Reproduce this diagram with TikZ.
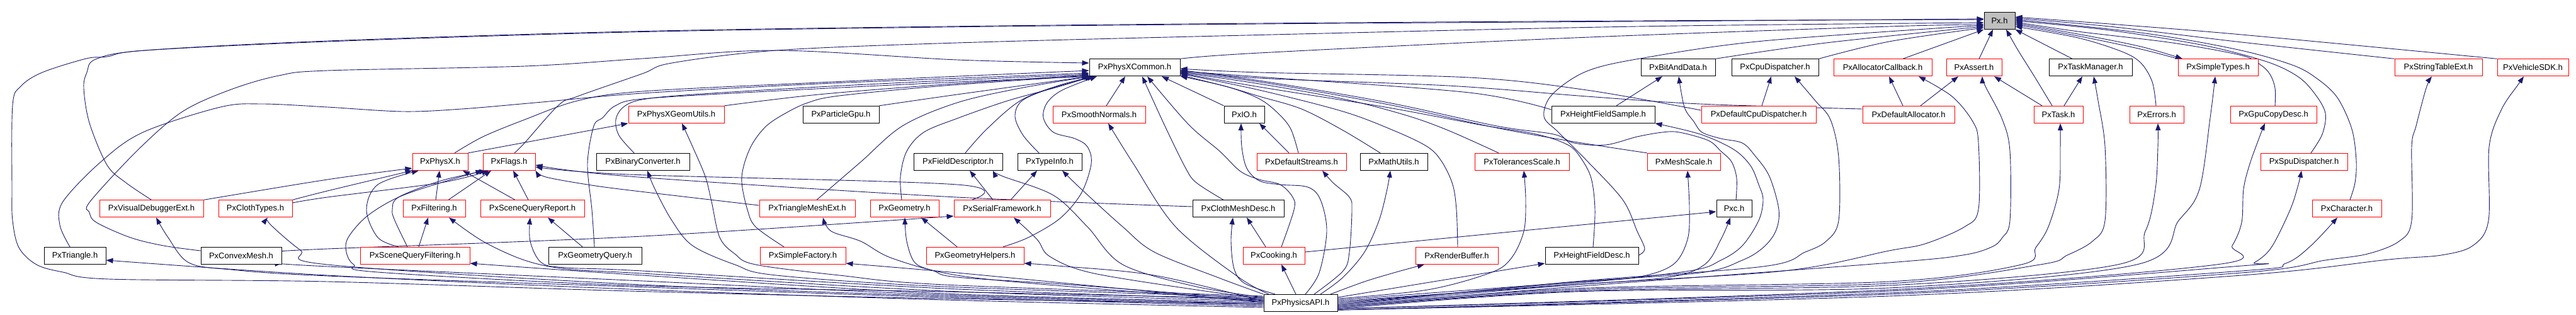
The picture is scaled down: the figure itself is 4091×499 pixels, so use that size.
\documentclass[tikz,border=0pt]{standalone}
\usepackage{fontspec}
\newfontfamily\lsans{Liberation Sans}
\usetikzlibrary{arrows.meta}
\definecolor{edgec}{HTML}{191970}
\definecolor{redc}{HTML}{FF0000}
\definecolor{grayc}{HTML}{BFBFBF}
\pgfdeclarelayer{bg}
\pgfsetlayers{bg,main}
\newcommand\myE[1]{\draw[e] plot[smooth,tension=0.55] coordinates {#1};}
\newcommand\myL[2]{\draw[e] #1 -- #2;}
\begin{document}
\begin{tikzpicture}[x=1pt,y=-1pt,
  box/.style={draw=black, line width=1pt, inner sep=0pt, minimum height=27pt,
    font=\lsans\fontsize{13}{15}\selectfont, fill=white},
  rbox/.style={box, draw=redc},
  gbox/.style={box, fill=grayc},
  e/.style={draw=edgec, line width=0.9pt, -{Triangle[length=11pt,width=8pt]}},
]
\useasboundingbox (0,0) rectangle (4091,499);
% row 1
\node[gbox, minimum width=49pt] (px) at (3175.5,32.8) {Px.h};
% row 2
\node[box, minimum width=144pt] (pxc) at (1802,107.3) {PxPhysXCommon.h};
\node[box, minimum width=118pt] (bad) at (2665,107.3) {PxBitAndData.h};
\node[box, minimum width=138pt] (cpu) at (2819,107.3) {PxCpuDispatcher.h};
\node[rbox, minimum width=156pt] (alc) at (2990,107.3) {PxAllocatorCallback.h};
\node[rbox, minimum width=88pt] (ast) at (3135,107.3) {PxAssert.h};
\node[box, minimum width=132pt] (tm) at (3320,107.3) {PxTaskManager.h};
\node[rbox, minimum width=127pt] (st) at (3522.5,107.3) {PxSimpleTypes.h};
\node[rbox, minimum width=139pt] (ste) at (3872.5,107.3) {PxStringTableExt.h};
\node[rbox, minimum width=113pt] (veh) at (4022.5,107.3) {PxVehicleSDK.h};
% row 3
\node[rbox, minimum width=152pt] (pgu) at (1074,181.8) {PxPhysXGeomUtils.h};
\node[box, minimum width=121pt] (pgpu) at (1335.5,181.8) {PxParticleGpu.h};
\node[rbox, minimum width=147pt] (sn) at (1745.5,181.8) {PxSmoothNormals.h};
\node[box, minimum width=64pt] (io) at (1976,181.8) {PxIO.h};
\node[box, minimum width=164pt] (hfs) at (2546,181.8) {PxHeightFieldSample.h};
\node[rbox, minimum width=182pt] (dcd) at (2793,181.8) {PxDefaultCpuDispatcher.h};
\node[rbox, minimum width=146pt] (da) at (3031,181.8) {PxDefaultAllocator.h};
\node[rbox, minimum width=78pt] (task) at (3269,181.8) {PxTask.h};
\node[rbox, minimum width=86pt] (err) at (3425,181.8) {PxErrors.h};
\node[rbox, minimum width=137pt] (gcd) at (3610.5,181.8) {PxGpuCopyDesc.h};
% row 4
\node[rbox, minimum width=88pt] (phx) at (699,256.8) {PxPhysX.h};
\node[rbox, minimum width=83pt] (flg) at (808.5,256.8) {PxFlags.h};
\node[box, minimum width=148pt] (bc) at (1021,256.8) {PxBinaryConverter.h};
\node[box, minimum width=141pt] (fd) at (1521.5,256.8) {PxFieldDescriptor.h};
\node[box, minimum width=102pt] (ti) at (1667,256.8) {PxTypeInfo.h};
\node[rbox, minimum width=142pt] (ds) at (2067,256.8) {PxDefaultStreams.h};
\node[box, minimum width=107pt] (mu) at (2213.5,256.8) {PxMathUtils.h};
\node[rbox, minimum width=150pt] (tol) at (2417,256.8) {PxTolerancesScale.h};
\node[rbox, minimum width=116pt] (ms) at (2674,256.8) {PxMeshScale.h};
\node[rbox, minimum width=138pt] (spu) at (3659,256.8) {PxSpuDispatcher.h};
% row 5
\node[rbox, minimum width=165pt] (vde) at (240.5,331.3) {PxVisualDebuggerExt.h};
\node[rbox, minimum width=117pt] (ct) at (405.5,331.3) {PxClothTypes.h};
\node[rbox, minimum width=99pt] (fil) at (689.5,331.3) {PxFiltering.h};
\node[rbox, minimum width=165pt] (sqr) at (845.5,331.3) {PxSceneQueryReport.h};
\node[rbox, minimum width=152pt] (tme) at (1282,331.3) {PxTriangleMeshExt.h};
\node[rbox, minimum width=109pt] (geo) at (1436.5,331.3) {PxGeometry.h};
\node[rbox, minimum width=153pt] (sf) at (1591.5,331.3) {PxSerialFramework.h};
\node[box, minimum width=145pt] (cmd) at (1966.5,331.3) {PxClothMeshDesc.h};
\node[box, minimum width=56pt] (pxcc) at (2754,331.3) {Pxc.h};
\node[rbox, minimum width=110pt] (chr) at (3727,331.3) {PxCharacter.h};
% row 6
\node[box, minimum width=98pt] (tri) at (119,405.8) {PxTriangle.h};
\node[box, minimum width=128pt] (cvx) at (383,405.8) {PxConvexMesh.h};
\node[rbox, minimum width=174pt] (sqf) at (659,405.8) {PxSceneQueryFiltering.h};
\node[box, minimum width=148pt] (gq) at (945,405.8) {PxGeometryQuery.h};
\node[rbox, minimum width=136pt] (sfa) at (1275,405.8) {PxSimpleFactory.h};
\node[rbox, minimum width=155pt] (gh) at (1548.5,405.8) {PxGeometryHelpers.h};
\node[rbox, minimum width=98pt] (ck) at (2023,405.8) {PxCooking.h};
\node[rbox, minimum width=131pt] (rb) at (2313.5,405.8) {PxRenderBuffer.h};
\node[box, minimum width=148pt] (hfd) at (2528,405.8) {PxHeightFieldDesc.h};
% row 7
\node[box, minimum width=117pt] (pa) at (2065.5,481) {PxPhysicsAPI.h};

\begin{pgfonlayer}{bg}
% ---- into Px.h
\myE{(pxc.north east) (2000,84) (2500,60) (3000,42) (px.west |- 0,39)}
\myE{(vde.north) (200,290) (170,262) (142,195) (133,140) (138,115) (152,94) (230,80) (520,65) (1000,50) (1500,42) (2000,37) (2600,33) (px.west |- 0,31)}
\myE{(pa.west |- 0,482) (1500,474) (1000,462) (520,447) (173,443) (100,432) (58,420) (30,393) (20,350) (19,300) (20,167) (33,137) (67,115) (137,93) (170,90) (230,80) (520,66) (1000,51) (1500,43) (2000,38) (2600,34) (px.west |- 0,30)}
\myE{(flg.north -| 817,0) (833,227) (887,167) (917,153) (1020,117) (1067,100) (1233,80) (1520,68) (2020,55) (2600,42) (px.west |- 0,36)}
\myE{(bad.north east) (2900,68) (px.west |- 0,42)}
\myE{(cpu.north east) (3000,66) (px.west |- 0,44)}
\myL{(alc.north -| 3022,0)}{(px.south west)}
\myL{(ast.north -| 3143,0)}{(px.south -| 3165,0)}
\myE{(task.north -| 3259,0) (3230,120) (3205,80) (px.south -| 3186,0)}
\myL{(tm.north -| 3291,0)}{(px.south east)}
\myE{(err.north -| 3424,0) (3418,130) (3400,100) (3370,82) (3300,60) (px.east |- 0,42)}
\myE{(st.north west) (3400,78) (3300,57) (px.east |- 0,39)}
\myE{(px.east |- 0,37) (3300,54) (3400,74) (st.north -| 3466,0)}
\myE{(gcd.north -| 3613,0) (3613,140) (3605,118) (3590,103) (3560,88) (3450,68) (3300,50) (px.east |- 0,35)}
\myE{(spu.north -| 3670,0) (3688,213) (3693,180) (3677,150) (3650,122) (3600,98) (3500,72) (3350,48) (px.east |- 0,33)}
\myE{(chr.north -| 3732,0) (3740,290) (3742,255) (3735,205) (3712,155) (3680,125) (3640,103) (3550,78) (3400,52) (px.east |- 0,31)}
\myE{(ste.north west) (3560,67) (3350,42) (px.east |- 0,29)}
\myE{(veh.north west) (3560,55) (3350,38) (px.east |- 0,27)}
\myE{(hfd.east |- 0,405) (2612,395) (2600,367) (2577,317) (2520,255) (2475,210) (2452,185) (2465,150) (2520,113) (2610,92) (2800,65) (px.west |- 0,40)}
% ---- into PxPhysXCommon.h
\myE{(tri.north -| 111,0) (95,357) (100,320) (160,257) (227,210) (350,170) (417,165) (520,170) (640,177) (733,173) (850,163) (1020,148) (1300,133) (1500,125) (pxc.west |- 0,116)}
\myE{(cvx.west |- 0,398) (260,390) (207,377) (153,353) (142,337) (143,320) (220,237) (290,177) (367,142) (443,120) (520,112) (833,105) (1020,93) (1233,80) (1520,95) (pxc.west |- 0,100)}
\myE{(phx.north -| 722,0) (767,217) (833,190) (917,160) (1020,145) (1300,131) (1500,122) (pxc.west |- 0,112)}
\myE{(bc.north -| 1007,0) (983,215) (978,190) (990,170) (1020,158) (1100,150) (1300,138) (1500,128) (pxc.west |- 0,118)}
\myE{(gq.north -| 944,0) (940,333) (933,260) (943,200) (957,187) (977,168) (1020,157) (1200,146) (1500,131) (pxc.south west)}
\myE{(pgu.north east) (1300,150) (1500,134) (pxc.west |- 0,119)}
\myE{(pgpu.north east) (1520,150) (pxc.south west)}
\myE{(tme.north -| 1297,0) (1367,257) (1433,200) (1520,163) (1620,140) (pxc.south -| 1732,0)}
\myE{(geo.north -| 1432,0) (1430,280) (1440,240) (1467,210) (1520,188) (1600,160) (1680,138) (pxc.south -| 1734,0)}
\myE{(sfa.north -| 1245,0) (1200,360) (1187,333) (1178,290) (1182,260) (1195,228) (1217,200) (1247,180) (1283,163) (1333,152) (1500,136) (pxc.west |- 0,120)}
\myE{(fd.north -| 1533,0) (1567,205) (1620,160) (1680,136) (pxc.south -| 1736,0)}
\myE{(ti.north -| 1650,0) (1625,215) (1612,185) (1623,160) (1667,141) (pxc.south -| 1738,0)}
\myE{(gh.north -| 1593,0) (1633,377) (1683,347) (1717,307) (1733,260) (1727,233) (1707,220) (1673,210) (1657,187) (1663,163) (1687,143) (pxc.south -| 1742,0)}
\myL{(sn.north -| 1757,0)}{(pxc.south -| 1787,0)}
\myL{(io.north west)}{(pxc.south -| 1845,0)}
\myE{(cmd.north -| 1943,0) (1900,290) (1883,267) (1850,200) (pxc.south -| 1814,0)}
\myE{(ck.north -| 2035,0) (2055,333) (2053,313) (2033,293) (2000,285) (1970,272) (1937,240) (1887,197) (pxc.south -| 1822,0)}
\myE{(ds.north -| 2062,0) (2050,205) (2030,180) (2000,157) (1950,138) (pxc.east |- 0,121)}
\myE{(mu.north -| 2192,0) (2133,207) (2067,173) (2000,153) (1950,138) (pxc.east |- 0,119)}
\myE{(rb.north -| 2315,0) (2313,333) (2307,293) (2290,257) (2267,233) (2213,207) (2133,177) (2000,143) (pxc.east |- 0,117)}
\myE{(tol.north -| 2380,0) (2300,207) (2233,183) (2133,157) (2000,133) (pxc.east |- 0,115)}
\myE{(hfs.west |- 0,174) (2333,147) (2000,122) (pxc.east |- 0,113)}
\myE{(ms.north west) (2500,225) (2377,203) (2200,165) (2000,130) (pxc.east |- 0,114)}
\myE{(pxcc.north -| 2757,0) (2758,283) (2750,257) (2733,240) (2713,223) (2667,210) (2640,210) (2600,217) (2550,230) (2500,227) (2467,213) (2377,200) (2200,162) (2000,128) (pxc.east |- 0,112)}
\myE{(dcd.west |- 0,175) (2520,143) (2333,123) (2000,115) (pxc.east |- 0,109)}
\myE{(da.west |- 0,173) (2700,165) (2520,153) (2300,136) (2000,124) (pxc.east |- 0,111)}
\myE{(hfd.north -| 2530,0) (2533,333) (2527,283) (2510,250) (2490,230) (2440,213) (2350,198) (2200,170) (2000,138) (pxc.east |- 0,116)}
% ---- PxPhysicsAPI.h, left side
\myE{(pa.west |- 0,488) (1500,476) (1000,459) (520,437) (tri.east |- 0,413)}
\myE{(pa.west |- 0,486) (1500,472) (1000,455) (520,438) (367,428) (300,417) (267,377) (vde.south -| 248,0)}
\myE{(pa.west |- 0,484) (1500,470) (1000,451) (520,420) (477,397) (430,357) (ct.south -| 425,0)}
\myE{(pa.west |- 0,482) (1500,468) (1000,445) (520,423) (cvx.east |- 0,418)}
\myE{(pa.west |- 0,480) (1500,466) (1020,437) (sqf.east |- 0,418)}
\myE{(pa.west |- 0,478) (1500,462) (1020,434) (900,427) (833,413) (767,383) (fil.south -| 713,0)}
\myE{(pa.west |- 0,476) (1500,458) (1020,430) (900,425) (860,417) (842,383) (sqr.south -| 842,0)}
\myE{(pa.west |- 0,474) (1500,463) (1000,453) (600,432) (562,420) (550,400) (553,377) (583,343) (633,313) (700,290) (flg.south west)}
\myE{(pa.west |- 0,472) (1500,455) (1233,437) (1167,420) (1100,390) (1067,350) (1040,300) (bc.south -| 1028,0)}
\myE{(pa.west |- 0,470) (1500,452) (1333,437) (1200,420) (1167,403) (1143,377) (1130,320) (1120,280) (1100,233) (pgu.south -| 1083,0)}
\myE{(pa.west |- 0,480) (1800,460) (1520,433) (sfa.east |- 0,418)}
\myE{(pa.west |- 0,478) (1700,455) (1520,437) (1417,410) (1367,383) (1320,367) (tme.south -| 1307,0)}
\myE{(pa.west |- 0,476) (1700,452) (1520,440) (1483,430) (1453,417) (1440,383) (geo.south -| 1437,0)}
\myE{(pa.west |- 0,478) (1833,437) (1680,422) (gh.east |- 0,418)}
\myE{(pa.west |- 0,474) (1900,460) (1733,433) (1667,407) (1647,380) (sf.south -| 1610,0)}
\myE{(pa.west |- 0,472) (1900,455) (1783,420) (1727,360) (1673,310) (1593,280) (fd.south -| 1577,0)}
\myE{(pa.north west) (1933,440) (1833,400) (1783,360) (1717,300) (ti.south -| 1687,0)}
\myE{(pa.north -| 2015,0) (1967,440) (1867,360) (1800,260) (sn.south -| 1760,0)}
\myE{(pa.north -| 2025,0) (1977,450) (1960,427) (1955,383) (cmd.south -| 1958,0)}
\myL{(pa.north -| 2058,0)}{(ck.south -| 2035,0)}
\myE{(pa.north -| 2073,0) (2095,433) (2107,367) (2097,317) (2077,297) (2033,293) (2000,287) (1980,267) (1972,233) (io.south -| 1971,0)}
\myE{(pa.north -| 2087,0) (2133,430) (2143,400) (2147,333) (2143,313) (2117,290) (ds.south -| 2100,0)}
\myE{(pa.north -| 2097,0) (2133,440) (2167,400) (2190,350) (2203,300) (mu.south -| 2208,0)}
\myE{(pa.north -| 2113,0) (2167,447) (2217,432) (rb.south -| 2262,0)}
% ---- PxPhysicsAPI.h, right side
\myL{(pa.east |- 0,472)}{(hfd.west |- 0,418)}
\myE{(pa.east |- 0,474) (2267,460) (2367,433) (2400,410) (2420,367) (2423,317) (tol.south -| 2420,0)}
\myE{(pa.east |- 0,476) (2500,448) (2600,440) (2657,420) (2680,380) (2683,330) (ms.south -| 2680,0)}
\myE{(pa.east |- 0,478) (2500,452) (2650,440) (2707,420) (2733,380) (pxcc.south -| 2748,0)}
\myE{(pa.east |- 0,480) (2500,450) (2683,430) (2733,413) (2767,390) (2793,350) (2800,317) (2793,293) (2780,263) (2753,237) (2700,213) (hfs.south east)}
\myE{(pa.east |- 0,482) (2500,448) (2700,433) (2767,413) (2800,393) (2820,367) (2825,333) (2810,280) (2787,247) (2767,227) (2733,220) (2703,210) (2690,193) (2675,170) (bad.south -| 2666,0)}
\myE{(pa.east |- 0,484) (2500,447) (2800,423) (2867,400) (2900,383) (2920,350) (2920,250) (2907,190) (2883,160) (cpu.south -| 2850,0)}
\myE{(pa.east |- 0,484) (2500,452) (2833,430) (3000,398) (3057,387) (3120,360) (3142,332) (3142,227) (3133,193) (3100,153) (alc.south -| 3047,0)}
\myE{(pa.east |- 0,486) (2500,455) (3000,417) (3117,405) (3163,392) (3180,377) (3192,350) (3192,240) (3180,190) (3153,137) (ast.south -| 3148,0)}
\myE{(pa.east |- 0,486) (2500,458) (3000,447) (3210,420) (3233,393) (3253,360) (3270,300) (3272,233) (task.south -| 3272,0)}
\myE{(pa.east |- 0,488) (2500,460) (3000,450) (3240,420) (3283,405) (3323,383) (3343,350) (3343,233) (3332,160) (tm.south -| 3325,0)}
\myE{(pa.east |- 0,488) (2500,462) (3000,453) (3363,420) (3407,367) (3423,300) (3427,233) (err.south -| 3427,0)}
\myE{(pa.east |- 0,490) (2500,463) (3000,457) (3393,420) (3460,350) (3493,300) (3510,187) (st.south -| 3518,0)}
\myE{(pa.east |- 0,490) (3000,460) (3520,420) (3545,390) (3560,353) (3563,300) (3573,260) (3590,213) (gcd.south -| 3597,0)}
\myE{(pa.east |- 0,490) (3000,462) (3560,422) (3580,417) (3607,393) (3637,333) (3650,293) (spu.south -| 3655,0)}
\myE{(pa.east |- 0,492) (3000,465) (3560,430) (3630,418) (3670,390) (chr.south -| 3712,0)}
\myE{(pa.east |- 0,492) (3000,467) (3560,433) (3693,413) (3760,403) (3810,383) (3830,350) (3830,233) (3837,200) (3853,140) (ste.south -| 3862,0)}
\myE{(pa.east |- 0,492) (3000,470) (3560,437) (3793,412) (3877,405) (3927,390) (3952,350) (3953,233) (3973,173) (4000,133) (veh.south -| 4008,0)}
% ---- other edges
\myL{(dcd.north -| 2798,0)}{(cpu.south -| 2813,0)}
\myL{(da.north -| 3022,0)}{(alc.south -| 3000,0)}
\myL{(da.north -| 3050,0)}{(ast.south -| 3110,0)}
\myL{(task.north -| 3243,0)}{(ast.south -| 3167,0)}
\myL{(task.north -| 3278,0)}{(tm.south -| 3307,0)}
\myL{(hfs.north -| 2567,0)}{(bad.south -| 2640,0)}
\myL{(phx.north east)}{(pgu.south west)}
\myL{(fil.north -| 692,0)}{(phx.south -| 698,0)}
\myL{(fil.north -| 712,0)}{(flg.south -| 780,0)}
\myL{(sqr.north -| 818,0)}{(phx.south -| 735,0)}
\myL{(sqr.north -| 839,0)}{(flg.south -| 815,0)}
\myL{(sqf.north -| 665,0)}{(fil.south -| 680,0)}
\myE{(sqf.north -| 633,0) (600,377) (582,333) (600,293) (phx.south -| 665,0)}
\myE{(sqf.north -| 647,0) (627,350) (623,333) (633,313) (700,287) (flg.south -| 772,0)}
\myL{(gq.north -| 925,0)}{(sqr.south -| 870,0)}
\myE{(cvx.east |- 0,399) (520,395) (1020,375) (sf.west |- 0,343)}
\myL{(gh.north -| 1520,0)}{(geo.south -| 1463,0)}
\myL{(sf.north -| 1577,0)}{(fd.south -| 1540,0)}
\myL{(sf.north -| 1605,0)}{(ti.south -| 1647,0)}
\myL{(ck.north -| 2010,0)}{(cmd.south -| 1980,0)}
\myL{(ck.east |- 0,400)}{(pxcc.west |- 0,336)}
\myL{(ds.north -| 2047,0)}{(io.south -| 2000,0)}
\myE{(vde.north east) (520,285) (phx.west |- 0,267)}
\myE{(ct.north east) (520,303) (phx.south west)}
\myE{(ct.east |- 0,322) (520,313) (700,290) (flg.south -| 776,0)}
\myE{(tme.west |- 0,326) (1000,302) (933,293) (867,281) (flg.south east)}
\myE{(sf.north -| 1543,0) (1520,293) (1000,277) (flg.east |- 0,265)}
\myE{(cmd.west |- 0,328) (1500,312) (1000,280) (flg.east |- 0,262)}
\end{pgfonlayer}
\end{tikzpicture}
\end{document}
